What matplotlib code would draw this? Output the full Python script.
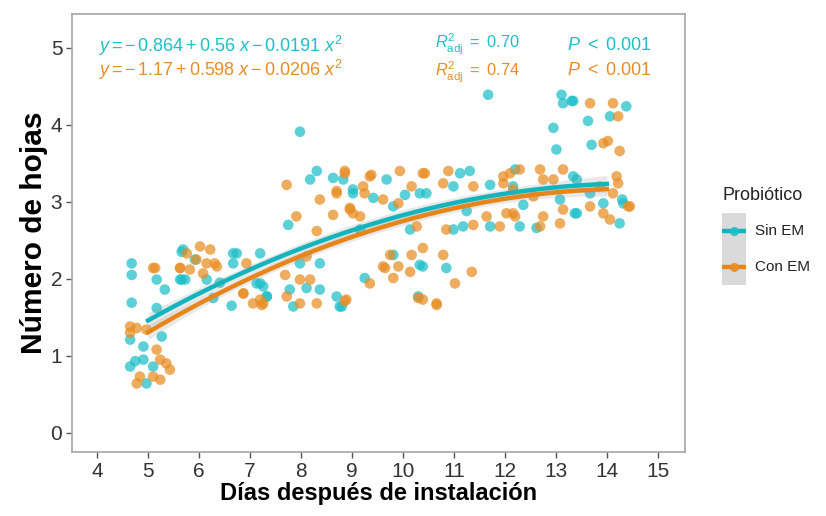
import numpy as np
import matplotlib
matplotlib.use("Agg")
import matplotlib.pyplot as plt
from matplotlib.patches import Rectangle
from matplotlib.lines import Line2D

plt.rcParams['font.family'] = ['Liberation Sans', 'DejaVu Sans']
plt.rcParams['mathtext.fontset'] = 'custom'
plt.rcParams['mathtext.rm'] = 'Liberation Sans'
plt.rcParams['mathtext.it'] = 'Liberation Sans:italic'
plt.rcParams['mathtext.bf'] = 'Liberation Sans:bold'

# ---------------- data ----------------
groups = ["Sin EM", "Con EM"]
colors = ["#1DBFC8", "#E88D22"]
line_colors = ["#12B4BD", "#E5851A"]

sin_x = [4.68, 4.68, 4.68, 5.17, 5.33, 5.66, 5.66, 5.17, 5.27, 4.91, 4.65, 4.91, 4.65, 4.75, 4.97, 5.10,
         5.69, 5.92, 5.73, 6.15, 6.28, 6.67, 6.67, 7.20, 7.13, 6.64, 7.33, 6.41, 5.63, 6.74, 7.20,
         7.98, 8.18, 8.31, 8.63, 8.83, 7.75, 8.37, 7.98, 7.26, 7.78, 8.11, 8.37, 7.85, 8.70, 8.76, 7.33,
         9.02, 9.68, 10.04, 10.33, 9.42, 9.81, 9.16, 10.14, 10.33, 9.25, 9.81, 10.30, 8.80, 9.02,
         11.67, 11.31, 11.12, 11.71, 10.99, 10.46, 11.18, 11.71, 10.99, 10.39, 10.85, 11.25, 12.16,
         13.11, 13.14, 13.31, 12.95, 13.01, 12.20, 13.34, 12.36, 13.37, 12.62, 12.29, 13.08,
         13.34, 14.38, 13.63, 14.06, 13.70, 13.41, 13.93, 14.32, 14.25, 13.67, 13.41, 14.30]
sin_y = [2.20, 2.05, 1.69, 1.99, 1.86, 2.35, 1.99, 1.62, 1.25, 1.12, 1.21, 0.95, 0.86, 0.93, 0.64, 0.86,
         2.38, 2.25, 1.99, 1.99, 1.75, 2.33, 2.20, 2.33, 1.94, 1.65, 1.77, 1.95, 1.99, 2.33, 1.94,
         3.91, 3.29, 3.40, 3.31, 3.29, 2.70, 2.20, 2.20, 1.90, 1.86, 1.88, 1.86, 1.64, 1.77, 1.64, 1.77,
         3.16, 3.29, 3.09, 3.11, 3.05, 2.94, 2.64, 2.64, 2.18, 2.01, 2.31, 1.77, 1.64, 3.11,
         4.39, 3.40, 3.37, 3.22, 3.20, 3.11, 2.68, 2.68, 2.64, 2.16, 2.14, 2.88, 3.20,
         4.39, 4.28, 4.31, 3.96, 3.68, 3.42, 3.33, 2.96, 2.85, 2.66, 2.68, 3.03,
         4.31, 4.24, 4.05, 4.11, 3.74, 2.85, 2.98, 2.98, 2.72, 3.11, 3.29, 3.03]

con_x = [5.10, 4.65, 4.78, 4.65, 4.97, 5.17, 5.24, 5.36, 4.84, 4.78, 5.10, 5.24, 5.43, 5.63, 5.14,
         6.02, 6.22, 5.95, 6.15, 6.31, 5.82, 6.08, 5.76, 6.87, 7.06, 6.93, 7.20, 7.23, 6.87, 5.63, 6.35,
         7.72, 8.37, 7.91, 8.31, 8.63, 8.86, 8.70, 8.96, 7.69, 7.98, 8.18, 8.11, 7.72, 7.98, 8.31, 8.89, 7.26,
         8.86, 9.38, 9.94, 10.39, 9.25, 9.61, 10.17, 8.96, 9.16, 9.91, 10.27, 9.75, 9.65, 9.91, 10.17,
         10.14, 9.81, 9.35, 10.30, 10.66, 8.86, 9.35, 8.70, 9.22, 9.02, 9.61,
         10.43, 10.89, 10.79, 11.38, 12.10, 11.97, 10.85, 11.38, 11.64, 11.90, 10.79, 10.39, 11.35, 11.02,
         10.66, 10.39, 12.16,
         12.29, 12.69, 13.14, 11.97, 12.75, 12.95, 12.16, 12.56, 12.03, 12.20, 12.75, 13.08, 12.69, 13.14,
         13.67, 14.12, 14.22, 13.93, 14.02, 14.25, 14.19, 14.22, 14.12, 13.67, 13.93, 14.06, 14.45, 13.86, 14.42]
con_y = [2.14, 1.38, 1.36, 1.30, 1.34, 1.08, 0.95, 0.90, 0.73, 0.64, 0.73, 0.69, 0.82, 2.14, 2.14,
         2.42, 2.38, 2.25, 2.20, 2.20, 2.12, 2.07, 2.33, 1.81, 1.68, 2.20, 1.73, 1.66, 1.81, 2.14, 2.16,
         3.22, 3.03, 2.81, 2.62, 2.83, 3.40, 3.14, 2.90, 2.05, 1.99, 1.99, 2.29, 1.77, 1.68, 1.68, 1.73, 1.68,
         3.37, 3.35, 3.40, 3.37, 3.11, 3.03, 3.20, 2.92, 2.81, 2.98, 2.68, 2.31, 2.14, 2.16, 2.31,
         2.09, 2.01, 1.94, 1.75, 1.68, 1.71, 3.33, 3.11, 3.20, 2.85, 2.16,
         3.37, 3.40, 3.24, 3.20, 3.37, 3.24, 2.64, 2.70, 2.81, 2.68, 2.31, 2.40, 2.09, 1.94,
         1.66, 1.73, 2.85,
         3.42, 3.42, 3.42, 3.33, 3.29, 3.29, 3.16, 3.07, 2.85, 2.81, 2.81, 2.72, 2.68, 2.90,
         4.28, 4.28, 4.11, 3.76, 3.79, 3.66, 3.33, 3.24, 3.11, 2.94, 2.85, 2.77, 2.94, 3.20, 2.94]

# quadratic fit coefficients (c0, c1, c2) as printed on the chart
sin_coef = [-0.864, 0.56, -0.0191]
con_coef = [-1.17, 0.598, -0.0206]
fit_range = [5, 14]

eq_labels = [r"$y = -\,0.864 + 0.56\ x - 0.0191\ x^2$",
             r"$y = -\,1.17 + 0.598\ x - 0.0206\ x^2$"]
r2_labels = [r"$R^2_{\mathrm{adj}}\ =\ 0.70$", r"$R^2_{\mathrm{adj}}\ =\ 0.74$"]
p_labels = [r"$P\ <\ 0.001$", r"$P\ <\ 0.001$"]

xticks = list(range(4, 16))
yticks = [0, 1, 2, 3, 4, 5]

# ---------------- figure ----------------
W, H = 826, 516
fig = plt.figure(figsize=(W / 100, H / 100), dpi=100)
ax = fig.add_axes([0.0872, 0.124, 0.742, 0.849])

series = [(sin_x, sin_y, sin_coef), (con_x, con_y, con_coef)]
for i, (xs, ys, coef) in enumerate(series):
    ax.scatter(xs, ys, s=58, color=colors[i], alpha=0.72, edgecolors='none', zorder=2)

for i, (xs, ys, coef) in enumerate(series):
    xs_a = np.asarray(xs); ys_a = np.asarray(ys)
    X = np.vstack([np.ones_like(xs_a), xs_a, xs_a ** 2]).T
    resid = ys_a - X @ np.asarray(coef)
    sigma2 = np.sum(resid ** 2) / (len(xs_a) - 3)
    XtXi = np.linalg.inv(X.T @ X)
    xx = np.linspace(fit_range[0], fit_range[1], 200)
    XX = np.vstack([np.ones_like(xx), xx, xx ** 2]).T
    yy = XX @ np.asarray(coef)
    se = np.sqrt(np.einsum('ij,jk,ik->i', XX, XtXi, XX) * sigma2)
    ax.fill_between(xx, yy - 0.8 * se, yy + 0.8 * se, color='#999999', alpha=0.22,
                    linewidth=0, zorder=3)
    ax.plot(xx, yy, color=line_colors[i], lw=3.2, zorder=4)

ax.set_xlim(3.51, 15.53)
ax.set_ylim(-0.25, 5.44)
ax.set_xticks(xticks)
ax.set_yticks(yticks)
ax.tick_params(axis='both', direction='out', length=4, width=1, color='#555555',
               labelsize=15, labelcolor='#333333', pad=3)
for sp in ax.spines.values():
    sp.set_color('#A6A6A6')
    sp.set_linewidth(1.2)

ax.set_xlabel("Días después de instalación", fontsize=17, fontweight='bold', labelpad=1)
ax.set_ylabel("Número de hojas", fontsize=21.5, fontweight='bold', labelpad=2)

ypos = [0.927, 0.872]
r2pos = [0.931, 0.866]
for i in range(2):
    ax.text(0.042, ypos[i], eq_labels[i], transform=ax.transAxes, color=colors[i],
            fontsize=13, va='center', ha='left')
    ax.text(0.592, r2pos[i], r2_labels[i], transform=ax.transAxes, color=colors[i],
            fontsize=11.8, va='center', ha='left')
    ax.text(0.807, ypos[i], p_labels[i], transform=ax.transAxes, color=colors[i],
            fontsize=13, va='center', ha='left')

# ---------------- legend (ggplot-style keys) ----------------
key_left, key_w, key_h, key_top = 722, 24, 36, 213
fig.text(key_left / W, 1 - 195 / H, "Probiótico", fontsize=13, ha='left', va='center',
         color='#222222')
key_ax = fig.add_axes([key_left / W, 1 - (key_top + 2 * key_h) / H, key_w / W, 2 * key_h / H])
key_ax.set_xlim(0, 1)
key_ax.set_ylim(0, 2)
key_ax.axis('off')
key_ax.add_patch(Rectangle((0, 0), 1, 2, facecolor='#DADADA', edgecolor='none'))
for i, g in enumerate(groups):
    yc = 1.5 - i
    key_ax.add_line(Line2D([0.08, 0.92], [yc, yc], color=line_colors[i], lw=3.2))
    key_ax.add_line(Line2D([0.5], [yc], color=colors[i], marker='o', ms=6.5,
                           markeredgewidth=0, alpha=0.9))
    fig.text((key_left + key_w + 9) / W, 1 - (key_top + key_h * (i + 0.5)) / H, g,
             fontsize=11, ha='left', va='center', color='#222222')

fig.savefig("out.png", dpi=100, facecolor='white')
